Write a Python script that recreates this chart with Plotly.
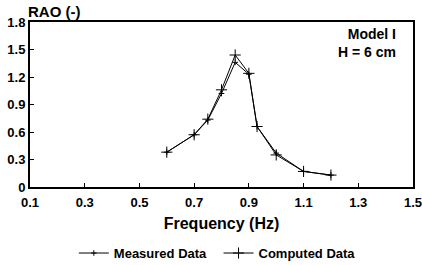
import plotly.graph_objects as go

freq_computed = [0.6, 0.7, 0.75, 0.8, 0.85, 0.9, 0.93, 1.0, 1.1, 1.2]
rao_computed = [0.38, 0.57, 0.74, 1.06, 1.44, 1.24, 0.66, 0.35, 0.17, 0.13]
freq_measured = [0.6, 0.7, 0.75, 0.8, 0.85, 0.9, 0.93, 1.0, 1.1, 1.2]
rao_measured = [0.38, 0.57, 0.73, 1.02, 1.36, 1.23, 0.66, 0.37, 0.17, 0.13]
x_ticks = [0.1, 0.3, 0.5, 0.7, 0.9, 1.1, 1.3, 1.5]
y_ticks = [0, 0.3, 0.6, 0.9, 1.2, 1.5, 1.8]
y_tick_labels = ["0", "0.3", "0.6", "0.9", "1.2", "1.5", "1.8"]

FONT = "Liberation Sans"

fig = go.Figure()
fig.add_trace(go.Scatter(
    x=freq_measured, y=rao_measured, name="Measured Data  ", mode="lines+markers",
    line=dict(color="black", width=1),
    marker=dict(symbol="cross-thin", size=4, line=dict(color="black", width=1)),
))
fig.add_trace(go.Scatter(
    x=freq_computed, y=rao_computed, name="Computed Data", mode="lines+markers",
    line=dict(color="black", width=1),
    marker=dict(symbol="cross-thin", size=8, line=dict(color="black", width=1)),
))

fig.update_layout(
    width=422, height=265,
    margin=dict(l=30, r=9, t=22, b=78, autoexpand=False),
    paper_bgcolor="white", plot_bgcolor="white",
    font=dict(family=FONT, color="black", size=13, weight="bold"),
    showlegend=True,
    legend=dict(orientation="h", x=0.515, xref="container", xanchor="center",
                y=0.045, yref="container", yanchor="middle",
                font=dict(size=13, family=FONT, weight="bold"),
                itemwidth=30, tracegroupgap=0, bgcolor="rgba(0,0,0,0)"),
    xaxis=dict(range=[0.1, 1.5], tickvals=x_ticks, ticktext=[f"{v:.1f}" for v in x_ticks],
               showgrid=False, zeroline=False, showline=True, mirror=True,
               linecolor="black", linewidth=2, ticks="inside", ticklen=4,
               tickcolor="black", tickfont=dict(size=13, weight="bold"),
               ticklabeloverflow="allow", automargin=False, ticklabelstandoff=2,
               title=dict(text="Frequency (Hz)", font=dict(size=16, weight="bold"), standoff=9)),
    yaxis=dict(range=[0, 1.8], tickvals=y_ticks, ticktext=y_tick_labels,
               showgrid=False, zeroline=False, showline=True, mirror=True,
               linecolor="black", linewidth=2, ticks="inside", ticklen=4,
               tickcolor="black", tickfont=dict(size=13, weight="bold"),
               ticklabeloverflow="allow", automargin=False),
    annotations=[
        dict(text="RAO (-)", xref="paper", yref="paper", x=0, y=1, xanchor="left",
             yanchor="bottom", showarrow=False, yshift=0, xshift=-4,
             font=dict(size=15, weight="bold")),
        dict(text="Model I<br>H = 6 cm", xref="paper", yref="paper", x=0.96, y=0.99,
             xanchor="right", yanchor="top", align="right", showarrow=False,
             font=dict(size=14, weight="bold")),
    ],
)

fig.write_html(
    "out.html",
    config={"displayModeBar": False},
    post_script="document.body.style.margin='0';document.body.style.overflow='hidden';",
)
